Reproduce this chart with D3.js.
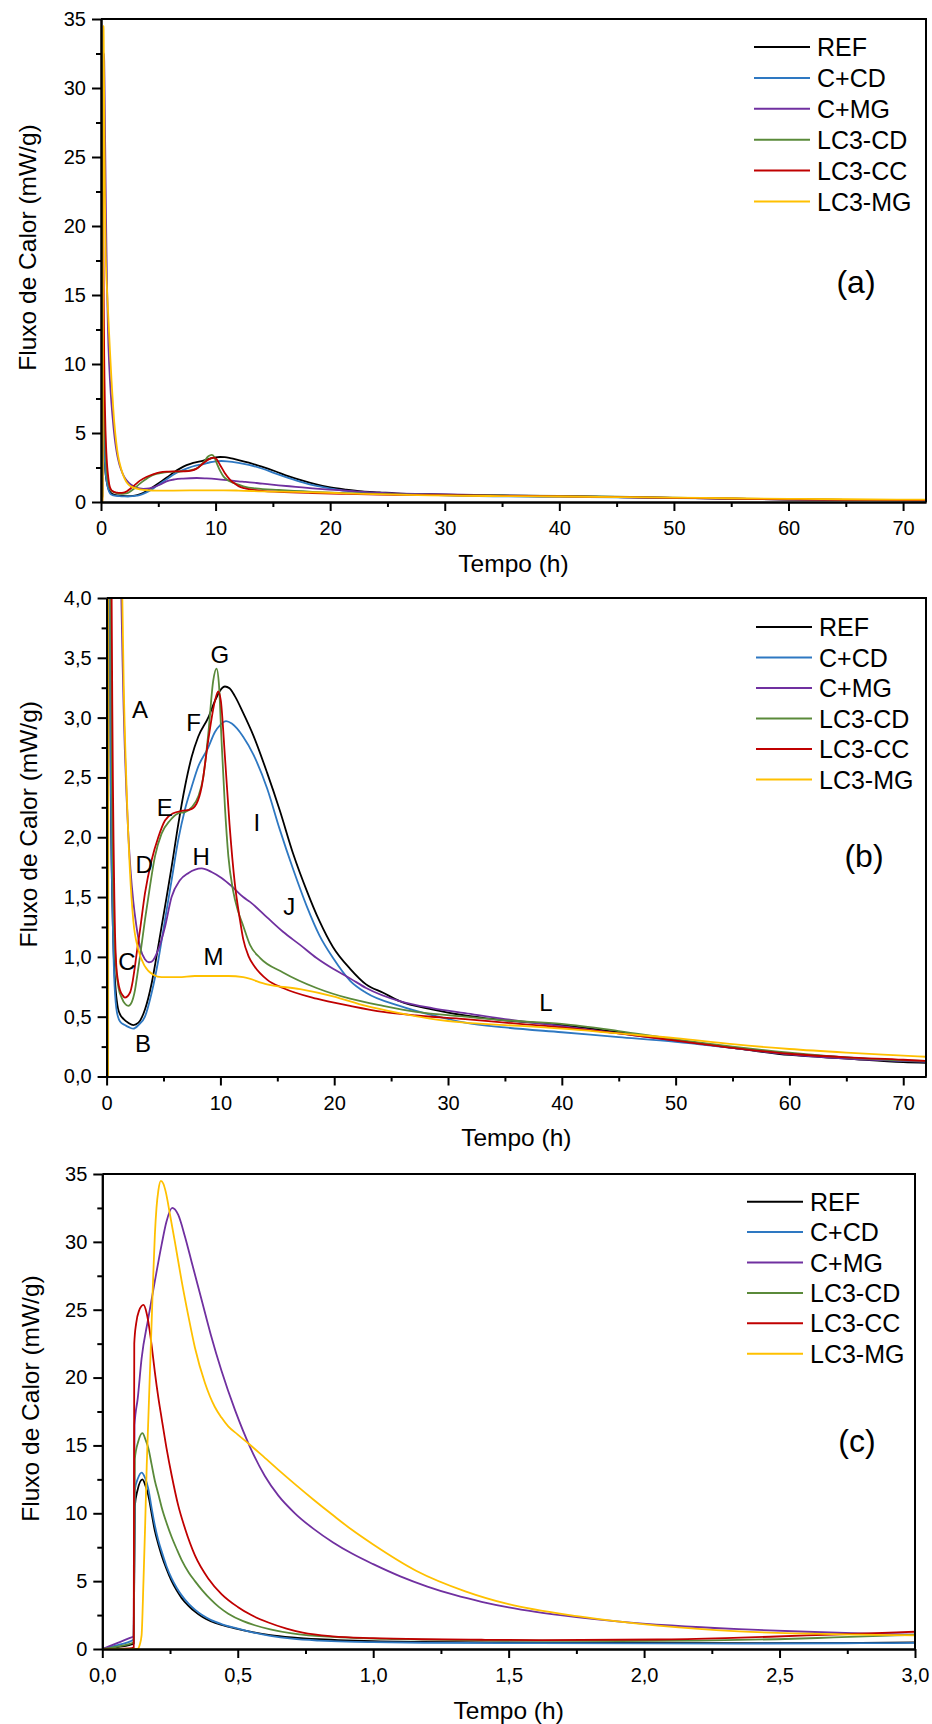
<!DOCTYPE html>
<html>
<head>
<meta charset="utf-8">
<script src="https://cdn.jsdelivr.net/npm/d3@7"></script>
<style>
body { margin: 0; background: #fff; }
svg { display: block; }
</style>
</head>
<body>
<script>
// heat flow curves, [time (h), flux (mW/g)]
var refData = [[0,0],[0.06,0.15],[0.116,0.4],[0.12,10.5],[0.13,11.7],[0.148,12.5],[0.16,12.0],[0.17,11.3],[0.182,10.0],
    [0.194,8.7],[0.207,7.7],[0.219,6.9],[0.237,5.9],[0.256,5.0],[0.275,4.3],[0.293,3.75],[0.32,3.15],[0.342,2.75],
    [0.37,2.35],[0.4,2.05],[0.44,1.77],[0.49,1.52],[0.55,1.26],[0.62,1.03],[0.7,0.86],[0.8,0.72],[0.9,0.63],
    [1.0,0.57],[1.18,0.52],[1.5,0.48],[1.9,0.45],[2.35,0.43],[2.8,0.45],[3.37,0.56],[3.96,0.78],[4.54,1.09],
    [5.13,1.42],[5.71,1.75],[6.3,2.11],[6.88,2.42],[7.47,2.67],[8.05,2.84],[8.93,3.0],[9.52,3.14],[10.0,3.23],
    [10.4,3.26],[10.8,3.245],[11.27,3.18],[12.0,3.04],[12.9,2.85],[14.1,2.54],[15.2,2.23],[16.4,1.86],[17.6,1.55],
    [18.7,1.3],[19.9,1.08],[21.4,0.9],[22.8,0.77],[24.3,0.7],[25.75,0.63],[28.7,0.56],[31.5,0.51],[35,0.47],
    [40,0.43],[45,0.37],[50,0.3],[55,0.24],[60,0.18],[65,0.15],[70,0.12],[72,0.115]];

var ccdData = [[0,0],[0.06,0.3],[0.116,0.7],[0.12,11.7],[0.132,12.6],[0.145,13.0],[0.158,12.6],[0.17,11.8],[0.182,10.4],
    [0.194,9.1],[0.207,8.0],[0.219,7.2],[0.237,6.1],[0.256,5.2],[0.275,4.5],[0.293,3.95],[0.32,3.3],[0.342,2.9],
    [0.37,2.48],[0.4,2.15],[0.44,1.84],[0.49,1.55],[0.55,1.25],[0.62,0.97],[0.7,0.76],[0.8,0.62],[0.9,0.54],
    [1.0,0.5],[1.18,0.46],[1.6,0.43],[2.0,0.41],[2.35,0.4],[2.8,0.43],[3.37,0.5],[3.96,0.7],[4.54,0.97],[5.13,1.31],
    [5.71,1.64],[6.3,1.98],[6.88,2.23],[7.47,2.42],[8.05,2.59],[8.93,2.75],[9.52,2.88],[10.0,2.94],[10.5,2.97],
    [11.0,2.95],[12.0,2.84],[12.9,2.69],[14.1,2.41],[15.2,2.07],[16.4,1.73],[17.6,1.42],[18.7,1.18],[19.9,0.99],
    [21.4,0.8],[22.8,0.7],[25.75,0.59],[28.7,0.51],[31.5,0.45],[35,0.41],[40,0.37],[45,0.33],[50,0.29],[55,0.24],
    [60,0.19],[65,0.16],[70,0.13],[72,0.125]];

var cmgData = [[0,0],[0.05,0.4],[0.1,0.8],[0.116,0.95],[0.119,16.5],[0.131,18.5],[0.145,21.4],[0.17,24.4],[0.194,27.1],
    [0.219,29.8],[0.237,31.5],[0.258,32.5],[0.28,32.0],[0.305,30.4],[0.33,28.5],[0.367,25.7],[0.4,23.2],[0.44,20.5],
    [0.49,17.6],[0.545,14.9],[0.6,12.75],[0.65,11.3],[0.711,10.0],[0.78,8.85],[0.852,7.85],[0.92,7.05],[1.0,6.25],
    [1.1,5.35],[1.2,4.6],[1.3,3.98],[1.4,3.48],[1.5,3.07],[1.6,2.74],[1.75,2.35],[1.91,2.02],[2.1,1.73],[2.35,1.46],
    [2.6,1.27],[2.8,1.15],[3.0,1.06],[3.37,0.98],[3.7,0.955],[3.96,0.96],[4.54,1.06],[5.13,1.25],[5.71,1.5],
    [6.44,1.64],[7.17,1.7],[8.35,1.74],[9.22,1.71],[10.1,1.66],[11.0,1.59],[12.0,1.5],[12.6,1.46],[14.1,1.33],
    [15.5,1.21],[17.0,1.1],[18.45,0.99],[19.9,0.9],[21.4,0.82],[22.8,0.74],[25.75,0.63],[28.7,0.57],[31.5,0.53],
    [35,0.48],[40,0.42],[45,0.36],[50,0.3],[55,0.24],[60,0.185],[65,0.15],[70,0.13],[72,0.125]];

var lcdData = [[0,0],[0.06,0.2],[0.116,0.5],[0.12,14.0],[0.133,15.3],[0.148,15.9],[0.16,15.4],[0.17,14.8],[0.182,13.6],
    [0.194,12.4],[0.207,11.4],[0.219,10.45],[0.237,9.3],[0.256,8.25],[0.275,7.35],[0.293,6.55],[0.32,5.6],
    [0.342,5.0],[0.37,4.3],[0.4,3.65],[0.43,3.1],[0.465,2.6],[0.52,2.05],[0.563,1.75],[0.62,1.45],[0.7,1.15],
    [0.88,0.86],[1.05,0.74],[1.32,0.66],[1.6,0.61],[1.91,0.59],[2.2,0.62],[2.49,0.72],[2.7,0.85],[2.93,1.0],
    [3.37,1.31],[3.81,1.59],[4.25,1.84],[4.83,2.03],[5.57,2.14],[6.3,2.2],[6.88,2.21],[7.47,2.25],[8.05,2.34],
    [8.49,2.5],[8.93,2.86],[9.37,3.31],[9.66,3.41],[9.87,3.28],[10.1,2.81],[10.4,2.25],[10.7,1.84],[11.1,1.56],
    [11.56,1.38],[12.0,1.26],[12.6,1.1],[13.5,0.99],[15.5,0.87],[18.45,0.74],[21.4,0.65],[24.3,0.59],[27.2,0.54],
    [31.5,0.5],[35,0.47],[40,0.44],[45,0.38],[50,0.31],[55,0.25],[60,0.2],[65,0.16],[70,0.135],[72,0.13]];

var lccData = [[0,0],[0.1,0.05],[0.116,0.1],[0.118,22.5],[0.125,24.0],[0.135,24.9],[0.152,25.35],[0.163,24.8],
    [0.17,24.1],[0.182,22.4],[0.194,20.4],[0.207,18.5],[0.219,17.0],[0.237,14.8],[0.256,12.8],[0.28,10.6],
    [0.305,8.9],[0.342,6.9],[0.391,5.2],[0.44,4.05],[0.5,3.1],[0.55,2.5],[0.613,1.95],[0.68,1.5],[0.74,1.2],
    [0.85,0.93],[1.0,0.8],[1.18,0.72],[1.4,0.68],[1.61,0.66],[2.05,0.7],[2.3,0.8],[2.49,0.92],[2.7,1.07],
    [2.93,1.22],[3.37,1.53],[3.96,1.81],[4.54,2.0],[5.13,2.14],[5.86,2.2],[6.6,2.22],[7.32,2.23],[7.9,2.28],
    [8.35,2.42],[8.93,2.81],[9.52,3.14],[9.81,3.22],[10.04,3.14],[10.4,2.67],[10.8,2.11],[11.27,1.61],[11.7,1.32],
    [12.0,1.15],[12.5,1.0],[13.0,0.92],[14.1,0.81],[15.5,0.74],[18.45,0.65],[21.4,0.59],[24.3,0.54],[27.2,0.51],
    [31.5,0.48],[35,0.45],[40,0.41],[45,0.36],[50,0.3],[55,0.24],[60,0.19],[65,0.16],[70,0.14],[72,0.13]];

var lmgData = [[0,0],[0.13,0],[0.138,0.3],[0.145,1.0],[0.152,5.0],[0.158,9.0],[0.164,13.5],[0.17,17.0],[0.176,20.5],
    [0.182,24.0],[0.188,27.5],[0.194,30.5],[0.2,32.5],[0.207,33.8],[0.216,34.5],[0.225,34.3],[0.234,33.7],[0.25,32.0],
    [0.268,30.0],[0.293,27.1],[0.317,24.6],[0.342,22.2],[0.379,19.6],[0.415,17.85],[0.44,17.05],[0.465,16.4],
    [0.5,15.8],[0.545,15.05],[0.588,14.3],[0.65,13.2],[0.711,12.15],[0.78,11.0],[0.852,9.85],[0.92,8.8],[1.0,7.7],
    [1.16,5.75],[1.34,4.25],[1.5,3.3],[1.76,2.4],[2.05,1.72],[2.35,1.3],[2.79,1.06],[3.37,0.92],[4.1,0.85],
    [4.83,0.83],[6.3,0.83],[7.76,0.84],[9.2,0.84],[10.7,0.84],[12.0,0.83],[14.1,0.77],[17.0,0.73],[19.9,0.67],
    [22.8,0.59],[25.75,0.53],[28.7,0.48],[31.5,0.45],[35,0.43],[40,0.4],[45,0.36],[50,0.32],[55,0.27],[60,0.23],
    [65,0.2],[70,0.175],[72,0.165]];

var seriesNames = ["REF", "C+CD", "C+MG", "LC3-CD", "LC3-CC", "LC3-MG"];
var seriesColors = ["#000000", "#2e78c2", "#7030a0", "#5a8a3a", "#c00000", "#ffc000"];
var allSeries = [refData, ccdData, cmgData, lcdData, lccData, lmgData];

// ticks
var hoursMajor = [0, 10, 20, 30, 40, 50, 60, 70];
var hoursMinor = [5, 15, 25, 35, 45, 55, 65];
var fluxMajor = [0, 5, 10, 15, 20, 25, 30, 35];
var fluxMinor = [2.5, 7.5, 12.5, 17.5, 22.5, 27.5, 32.5];
var zoomFluxMajor = [0, 0.5, 1, 1.5, 2, 2.5, 3, 3.5, 4];
var zoomFluxMinor = [0.25, 0.75, 1.25, 1.75, 2.25, 2.75, 3.25, 3.75];
var earlyMajor = [0, 0.5, 1, 1.5, 2, 2.5, 3];
var earlyMinor = [0.25, 0.75, 1.25, 1.75, 2.25, 2.75];

// letters on panel (b), [label, time, flux]
var peakLabels = [["A",2.93,3.07],["B",3.21,0.28],["C",1.78,0.96],["D",3.3,1.77],["E",5.1,2.25],["F",7.65,2.96],
    ["G",9.95,3.53],["H",8.3,1.84],["I",13.2,2.12],["J",16.06,1.42],["L",38.6,0.62],["M",9.4,1.0]];

var font = "'Liberation Sans', Arial, sans-serif";
var comma = d3.formatLocale({decimal: ",", thousands: ".", grouping: [3], currency: ["", ""]}).format(".1f");
var plain = d3.format("d");

var svg = d3.select("body").append("svg")
        .attr("width", 932)
        .attr("height", 1724)
        .style("font-family", font);

var panels = [
    {tag: "(a)", left: 101, right: 926, top: 19, bottom: 502, xDomain: [0, 72], yDomain: [0, 35],
        xMajor: hoursMajor, xMinor: hoursMinor, yMajor: fluxMajor, yMinor: fluxMinor, xFmt: plain, yFmt: plain,
        legX: 754, legY: 47, legStep: 30.9, tagX: 856, tagY: 282, titleX: 27},
    {tag: "(b)", left: 106.6, right: 926, top: 598, bottom: 1076.5, xDomain: [0, 72], yDomain: [0, 4],
        xMajor: hoursMajor, xMinor: hoursMinor, yMajor: zoomFluxMajor, yMinor: zoomFluxMinor, xFmt: plain, yFmt: comma,
        legX: 756, legY: 627, legStep: 30.5, tagX: 864, tagY: 856, titleX: 28.5},
    {tag: "(c)", left: 102.3, right: 915, top: 1174, bottom: 1649, xDomain: [0, 3], yDomain: [0, 35],
        xMajor: earlyMajor, xMinor: earlyMinor, yMajor: fluxMajor, yMinor: fluxMinor, xFmt: comma, yFmt: plain,
        legX: 747, legY: 1201.7, legStep: 30.4, tagX: 857, tagY: 1441, titleX: 30}
];

panels.forEach(function (p, i) {
    var xScale = d3.scaleLinear().domain(p.xDomain).range([p.left, p.right]);
    var yScale = d3.scaleLinear().domain(p.yDomain).range([p.bottom, p.top]);
    var g = svg.append("g");

    g.append("clipPath")
            .attr("id", "clip" + i)
            .append("rect")
            .attr("x", p.left)
            .attr("y", p.top)
            .attr("width", p.right - p.left)
            .attr("height", p.bottom - p.top);

    var lineFunc = d3.line()
            .x(function (d) { return xScale(d[0]); })
            .y(function (d) { return yScale(d[1]); })
            .curve(d3.curveMonotoneX);

    g.append("g")
            .attr("clip-path", "url(#clip" + i + ")")
            .selectAll("path")
            .data(allSeries)
            .enter()
            .append("path")
            .attr("d", lineFunc)
            .attr("fill", "none")
            .attr("stroke", function (d, j) { return seriesColors[j]; })
            .attr("stroke-width", 1.8)
            .attr("stroke-linejoin", "round");

    // frame top and right
    g.append("path")
            .attr("d", "M" + p.left + "," + p.top + "H" + p.right + "V" + p.bottom)
            .attr("fill", "none")
            .attr("stroke", "#000")
            .attr("stroke-width", 2);

    var xAxis = g.append("g")
            .attr("transform", "translate(0," + p.bottom + ")")
            .call(d3.axisBottom(xScale).tickValues(p.xMajor).tickFormat(p.xFmt)
                    .tickSize(9).tickSizeOuter(0).tickPadding(10));
    var xMinorAxis = g.append("g")
            .attr("transform", "translate(0," + p.bottom + ")")
            .call(d3.axisBottom(xScale).tickValues(p.xMinor).tickFormat("").tickSize(5).tickSizeOuter(0));
    var yAxis = g.append("g")
            .attr("transform", "translate(" + p.left + ",0)")
            .call(d3.axisLeft(yScale).tickValues(p.yMajor).tickFormat(p.yFmt)
                    .tickSize(9).tickSizeOuter(0).tickPadding(6));
    var yMinorAxis = g.append("g")
            .attr("transform", "translate(" + p.left + ",0)")
            .call(d3.axisLeft(yScale).tickValues(p.yMinor).tickFormat("").tickSize(5).tickSizeOuter(0));

    [xAxis, xMinorAxis, yAxis, yMinorAxis].forEach(function (a) {
        a.attr("font-size", 20).attr("font-family", font);
        a.selectAll("line, path").attr("stroke-width", 2);
    });

    g.append("text")
            .attr("transform", "translate(" + p.titleX + "," + ((p.top + p.bottom) / 2 - 13) + ") rotate(-90)")
            .attr("text-anchor", "middle")
            .attr("dominant-baseline", "central")
            .attr("font-size", 24.5)
            .text("Fluxo de Calor (mW/g)");

    g.append("text")
            .attr("x", (p.left + p.right) / 2)
            .attr("y", p.bottom + 61)
            .attr("text-anchor", "middle")
            .attr("dominant-baseline", "central")
            .attr("font-size", 24.5)
            .text("Tempo (h)");

    var leg = g.selectAll(".leg")
            .data(seriesNames)
            .enter()
            .append("g")
            .attr("transform", function (d, j) { return "translate(" + p.legX + "," + (p.legY + j * p.legStep) + ")"; });
    leg.append("line")
            .attr("x1", 0)
            .attr("x2", 56)
            .attr("stroke", function (d, j) { return seriesColors[j]; })
            .attr("stroke-width", 2);
    leg.append("text")
            .attr("x", 63)
            .attr("dominant-baseline", "central")
            .attr("font-size", 25)
            .text(function (d) { return d; });

    g.append("text")
            .attr("x", p.tagX)
            .attr("y", p.tagY)
            .attr("text-anchor", "middle")
            .attr("dominant-baseline", "central")
            .attr("font-size", 32)
            .text(p.tag);

    if (i === 1) {
        g.selectAll(".peak")
                .data(peakLabels)
                .enter()
                .append("text")
                .attr("x", function (d) { return xScale(d[1]); })
                .attr("y", function (d) { return yScale(d[2]); })
                .attr("text-anchor", "middle")
                .attr("dominant-baseline", "central")
                .attr("font-size", 24)
                .text(function (d) { return d[0]; });
    }
});
</script>
</body>
</html>
